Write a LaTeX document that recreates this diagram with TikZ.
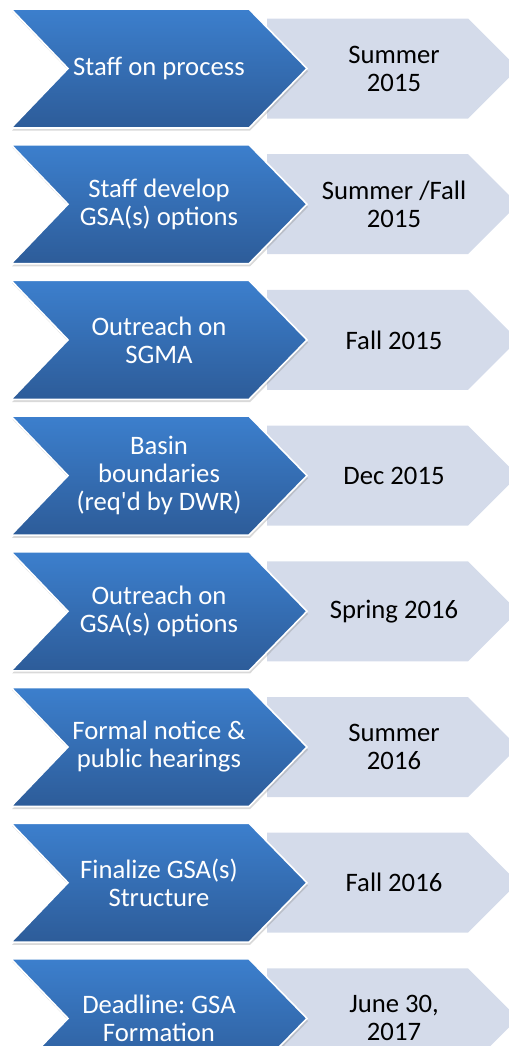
\documentclass[tikz,border=0pt]{standalone}
\usepackage{fontspec}
\setmainfont{Carlito}
\frenchspacing
\usetikzlibrary{shadows}
\definecolor{tasktop}{RGB}{60,127,205}
\definecolor{taskbot}{RGB}{45,92,153}
\definecolor{whenfill}{RGB}{212,219,234}

\begin{document}
\begin{tikzpicture}[
                x=0.75pt, y=0.75pt,
                taskshape/.style={draw=white, line width=1.2pt, top color=tasktop, bottom color=taskbot,
                    drop shadow={shadow xshift=0.8pt, shadow yshift=-2pt, opacity=0.3}},
                whenshape/.style={fill=whenfill},
                tasktext/.style={text=white, align=center, inner sep=0pt, font=\fontsize{20}{21}\selectfont},
                whentext/.style={text=black, align=center, inner sep=0pt, font=\fontsize{20}{21}\selectfont},
                smalltext/.style={font=\fontsize{13.4}{21}\selectfont},
            ]
            \useasboundingbox (0,0) rectangle (509,-1046);

            % === one row per step: chevron (task) + home plate (date) ===
            \foreach \task/\when [count=\i] in {
                {Staff on process}/{Summer\\2015},
                {Staff develop\\GSA(s) options}/{Summer /Fall\\2015},
                {Outreach on\\SGMA}/{Fall 2015},
                {Basin\\boundaries\\\tikzset{smalltext}(req\textquotesingle d by DWR)}/{Dec 2015},
                {Outreach on\\GSA(s) options}/{Spring 2016},
                {Formal notice \&\\public hearings}/{Summer\\2016},
                {Finalize GSA(s)\\Structure}/{Fall 2016},
                {Deadline: GSA\\Formation}/{June 30,\\2017}} {
                \pgfmathsetmacro{\top}{-9-135.7*(\i-1)}
                \coordinate (mid-\i) at (0,\top-59.5);
                \fill[whenshape] (267,\top-9.5) -- (468,\top-9.5) -- (518,\top-59.5)
                    -- (468,\top-109.5) -- (267,\top-109.5) -- cycle;
                \path[taskshape] (11,\top) -- (249,\top) -- (307,\top-59.5)
                    -- (249,\top-119) -- (11,\top-119) -- (68,\top-59.5) -- cycle;
                \node[tasktext] (task-\i) at ([xshift=159*0.75pt]mid-\i) {\task};
                \node[whentext] (when-\i) at ([xshift=394*0.75pt]mid-\i) {\when};
            }
\end{tikzpicture}
\end{document}
